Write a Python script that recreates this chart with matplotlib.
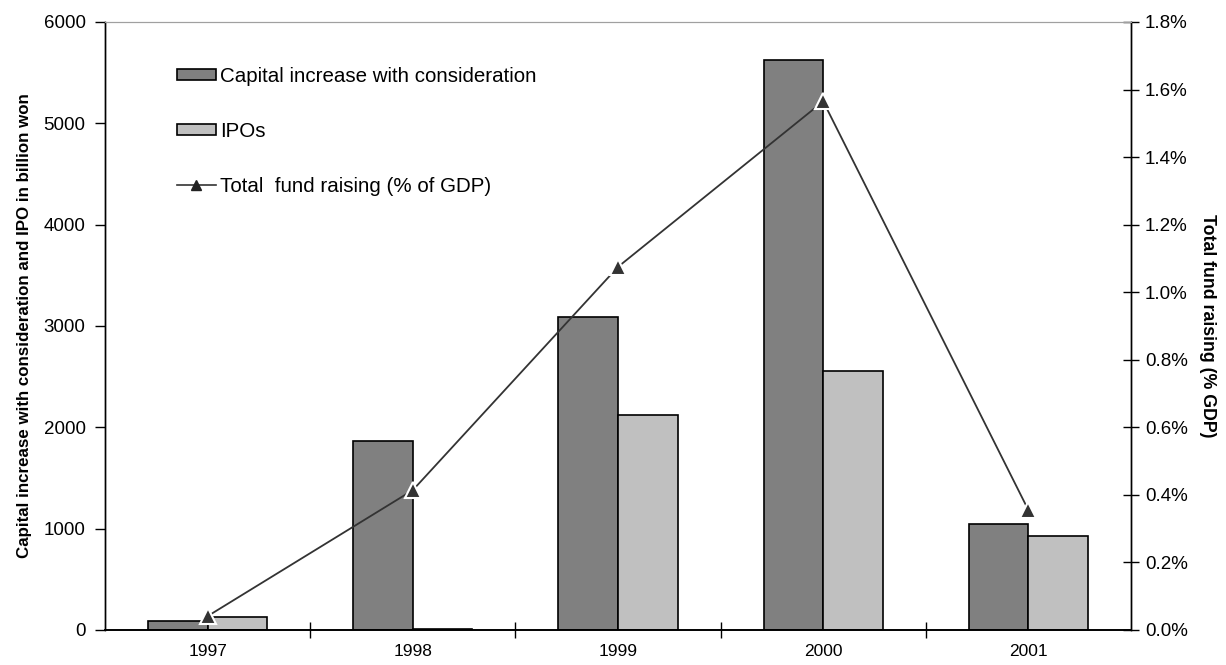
import matplotlib
matplotlib.use("Agg")
import matplotlib.pyplot as plt
from matplotlib.lines import Line2D
from matplotlib.patches import Patch
from matplotlib.ticker import FuncFormatter
import numpy as np

plt.rcParams['font.family'] = ['Liberation Sans', 'DejaVu Sans']

years = ['1997', '1998', '1999', '2000', '2001']
capital_increase = [86, 1868, 3085, 5625, 1042]
ipos = [125, 6, 2122, 2560, 928]
total_pct_gdp = [0.041, 0.414, 1.075, 1.565, 0.355]

dark = '#808080'
light = '#c0c0c0'

fig = plt.figure(figsize=(12.26, 6.65), dpi=100)
ax = fig.add_axes([105/1226, 1-630/665, (1131-105)/1226, (630-22)/665])
ax2 = ax.twinx()

x = np.arange(len(years))
w = 0.29
ax.bar(x - w/2, capital_increase, w, color=dark, edgecolor='black', linewidth=1.2, zorder=2)
ax.bar(x + w/2, ipos, w, color=light, edgecolor='black', linewidth=1.2, zorder=2)

ax2.plot(x, total_pct_gdp, color='#333333', linewidth=1.3, marker='^', markersize=11,
         markerfacecolor='#333333', markeredgecolor='white', markeredgewidth=1.5, zorder=3)

ax.set_xlim(-0.5, len(years) - 0.5)
ax.set_ylim(0, 6000)
ax.set_yticks(np.arange(0, 6001, 1000))
ax2.set_ylim(0, 1.8)
ax2.set_yticks(np.arange(0, 1.81, 0.2))
ax2.yaxis.set_major_formatter(FuncFormatter(lambda v, p: f"{v:.1f}%"))

ax.set_xticks(x)
ax.set_xticklabels(years)
ax.set_xticks(np.arange(0.5, len(years) - 0.5, 1), minor=True)
ax.tick_params(axis='x', which='major', length=0, pad=10, labelsize=12.5)
ax.tick_params(axis='x', which='minor', direction='inout', length=12, width=1)
ax.tick_params(axis='y', direction='out', length=7, width=1, labelsize=13.5, pad=7)
ax2.tick_params(axis='y', direction='inout', length=12, width=1, labelsize=13.5, pad=4)

for a in (ax, ax2):
    a.spines['top'].set_color('#a0a0a0')
    a.spines['top'].set_linewidth(0.8)
    a.spines['left'].set_linewidth(1.0)
    a.spines['right'].set_linewidth(1.0)
    a.spines['bottom'].set_linewidth(1.2)

ax.set_ylabel('Capital increase with consideration and IPO in billion won',
              fontsize=12.2, fontweight='bold', labelpad=8)
ax2.set_ylabel('Total fund raising (% GDP)', fontsize=12.8, fontweight='bold',
               rotation=270, labelpad=20)

handles = [
    Patch(facecolor=dark, edgecolor='black', linewidth=1.2),
    Patch(facecolor=light, edgecolor='black', linewidth=1.2),
    Line2D([], [], color='#333333', linewidth=1.2, marker='^', markersize=7,
           markerfacecolor='#222222', markeredgecolor='#222222'),
]
labels = ['Capital increase with consideration', 'IPOs', 'Total  fund raising (% of GDP)']
leg = ax2.legend(handles, labels, loc='upper left', bbox_to_anchor=(0.0617, 0.94),
                 frameon=False, fontsize=14.8, handlelength=1.9, handleheight=0.5,
                 handletextpad=0.2, labelspacing=1.75, borderaxespad=0)

fig.savefig('out.png', dpi=100)
